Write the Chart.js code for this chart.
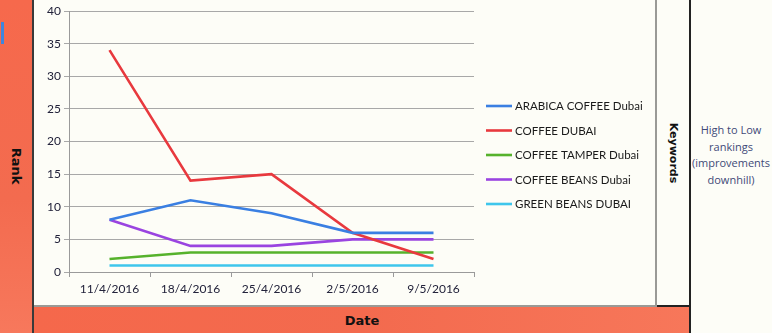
<!DOCTYPE html>
<html><head><meta charset="utf-8">
<script src="https://cdn.jsdelivr.net/npm/chart.js@4.4.0/dist/chart.umd.min.js"></script>
<style>
html,body{margin:0;padding:0;background:#fdfdf7;width:772px;height:333px;overflow:hidden;position:relative;font-family:Lato,"Noto Sans",sans-serif;}
.orange{position:absolute;background:linear-gradient(90deg,#f5684b,#f36a4e 50%,#f7775a);}
#left{left:0;top:0;width:32px;height:333px;background:linear-gradient(180deg,#f6694c,#f36b4f 60%,#f7785c);}
#bottom{left:32px;top:307px;width:658px;height:26px;}
#vline{position:absolute;left:32px;top:0;width:2px;height:333px;background:#3a3a3a;}
#panel{position:absolute;left:34px;top:0;width:621px;height:305px;border-right:2px solid #9a9a96;border-bottom:2px solid #9a9a96;background:#fdfdf7;}
#kwline{position:absolute;left:657px;top:305px;width:33px;height:2px;background:#222;}
#rline{position:absolute;left:689px;top:0;width:2px;height:333px;background:#222;}
.vt{position:absolute;font-weight:bold;color:#111;font-family:"Comic Sans MS","DejaVu Sans",sans-serif;white-space:nowrap;transform:translate(-50%,-50%) rotate(90deg);}
#rank{left:16px;top:166px;font-size:13px;}
#kw{left:673px;top:153px;font-size:11px;}
#date{position:absolute;left:362px;top:320px;transform:translate(-50%,-50%);font-weight:bold;font-size:13px;color:#111;font-family:"Comic Sans MS","DejaVu Sans",sans-serif;}
#note{position:absolute;left:690px;width:82px;top:122px;text-align:center;font-size:11px;line-height:16.5px;color:#3f4a78;font-family:"Open Sans","Noto Sans",sans-serif;}
#blue{position:absolute;left:1px;top:22px;width:3px;height:22px;background:#3f86dc;}
</style></head>
<body>
<div id="left" class="orange"></div>
<div id="bottom" class="orange"></div>
<div id="vline"></div>
<div id="blue"></div>
<div id="panel"><canvas id="c" width="621" height="305"></canvas></div>
<div id="kwline"></div>
<div id="rline"></div>
<div id="rank" class="vt">Rank</div>
<div id="kw" class="vt">Keywords</div>
<div id="date">Date</div>
<div id="note">High to Low<br>rankings<br>(improvements<br>downhill)</div>
<script>
const categories = ["11/4/2016","18/4/2016","25/4/2016","2/5/2016","9/5/2016"];
const seriesNames = ["ARABICA COFFEE Dubai","COFFEE DUBAI","COFFEE TAMPER Dubai","COFFEE BEANS Dubai","GREEN BEANS DUBAI"];
const arabicaCoffee = [8, 11, 9, 6, 6];
const coffeeDubai = [34, 14, 15, 6, 2];
const coffeeTamper = [2, 3, 3, 3, 3];
const coffeeBeans = [8, 4, 4, 5, 5];
const greenBeans = [1, 1, 1, 1, 1];
const yTicks = [0,5,10,15,20,25,30,35,40];

const colors = ["#3a7fe2","#e8393e","#56b22c","#9a44e0","#3ec6ec"];
const values = [arabicaCoffee, coffeeDubai, coffeeTamper, coffeeBeans, greenBeans];

// Legend drawn from the chart's own datasets, placed to the right of the plot area
const sideLegend = {
  id: 'sideLegend',
  afterDraw(chart) {
    const ctx = chart.ctx, ca = chart.chartArea;
    const ds = chart.data.datasets;
    const step = 24.5;
    const cy = (ca.top + ca.bottom) / 2 + 13.5;
    const x0 = ca.right + 12;
    ctx.save();
    ctx.font = '11.5px Lato';
    ctx.textBaseline = 'middle';
    ds.forEach((d, i) => {
      const y = cy + (i - (ds.length - 1) / 2) * step;
      ctx.strokeStyle = d.borderColor;
      ctx.lineWidth = 2.6;
      ctx.beginPath(); ctx.moveTo(x0, y); ctx.lineTo(x0 + 26, y); ctx.stroke();
      ctx.fillStyle = '#1a1a1a';
      ctx.fillText(d.label, x0 + 29, y + 0.5);
    });
    ctx.restore();
  }
};

new Chart(document.getElementById('c'), {
  type: 'line',
  data: {
    labels: categories,
    datasets: seriesNames.map((n,i)=>({
      label: n, data: values[i], borderColor: colors[i], backgroundColor: colors[i],
      borderWidth: 2.6, pointRadius: 0, tension: 0, fill: false
    }))
  },
  options: {
    responsive: false, animation: false, devicePixelRatio: 1,
    layout: { padding: { top: 11, left: 0, right: 181, bottom: 0 } },
    plugins: {
      tooltip: { enabled: false },
      legend: { display: false }
    },
    scales: {
      x: {
        offset: true,
        grid: { offset: true, drawOnChartArea: false, drawTicks: true, tickLength: 5, color: '#9a9a9a' },
        border: { color: '#9a9a9a', width: 1 },
        ticks: { color: '#22223a', font: { family: 'Lato', size: 12 }, padding: 5, maxRotation: 0 },
        afterFit: s => { s.height = 33; }
      },
      y: {
        min: 0, max: 40,
        afterBuildTicks: s => { s.ticks = yTicks.map(v=>({value:v})); },
        grid: { color: '#a8a8a8', tickLength: 5, drawTicks: true },
        border: { color: '#9a9a9a', width: 1 },
        ticks: { color: '#22223a', font: { family: 'Lato', size: 12 }, padding: 3 },
        afterFit: s => { s.width = 35; }
      }
    }
  },
  plugins: [sideLegend]
});
</script>
</body></html>
